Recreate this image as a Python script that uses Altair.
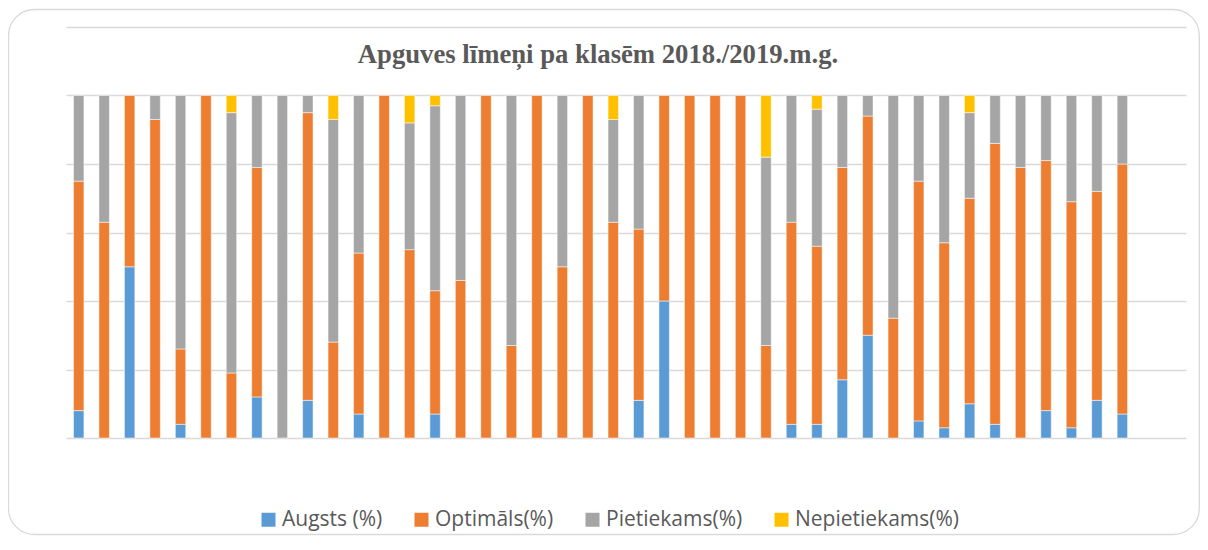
import altair as alt
import pandas as pd

# ---- data ----
classes = [str(i) for i in range(1, 45)]   # 44 category slots, last two empty
augsts = [8, 0, 50, 0, 4, 0, 0, 12, 0, 11, 0, 7, 0, 0, 7, 0, 0, 0, 0, 0, 0,
          0, 11, 40, 0, 0, 0, 0, 4, 4, 17, 30, 0, 5, 3, 10, 4, 0, 8, 3, 11, 7]
optimals = [67, 63, 50, 93, 22, 100, 19, 67, 0, 84, 28, 47, 100, 55, 36, 46, 100, 27, 100, 50, 100,
            63, 50, 60, 100, 100, 100, 27, 59, 52, 62, 64, 35, 70, 54, 60, 82, 79, 73, 66, 61, 73]
pietiekams = [25, 37, 0, 7, 74, 0, 76, 21, 100, 5, 65, 46, 0, 37, 54, 54, 0, 73, 0, 50, 0,
              30, 39, 0, 0, 0, 0, 55, 37, 40, 21, 6, 65, 25, 43, 25, 14, 21, 19, 31, 28, 20]
nepietiekams = [0, 0, 0, 0, 0, 0, 5, 0, 0, 0, 7, 0, 0, 8, 3, 0, 0, 0, 0, 0, 0,
                7, 0, 0, 0, 0, 0, 18, 0, 4, 0, 0, 0, 0, 0, 5, 0, 0, 0, 0, 0, 0]
series = ["Augsts (%)", "Optimāls(%)", "Pietiekams(%)", "Nepietiekams(%)"]
colors = ["#5B9BD5", "#ED7D31", "#A5A5A5", "#FFC000"]
title_text = "Apguves līmeņi pa klasēm 2018./2019.m.g."
grid_values = [0, 20, 40, 60, 80, 100, 120]

rows = []
for i in range(len(augsts)):
    for k, (s, vals) in enumerate(zip(series, [augsts, optimals, pietiekams, nepietiekams])):
        if vals[i] > 0:
            rows.append({"klase": classes[i], "limenis": s, "proc": vals[i], "ord": k})
df = pd.DataFrame(rows)

frame = alt.Chart(pd.DataFrame({"a": [0]})).mark_rect(
    fillOpacity=0, stroke="#d9d9d9", strokeWidth=1.3, cornerRadius=26
).encode(
    x=alt.value(-57.5), x2=alt.value(1133.3), y=alt.value(-17.5), y2=alt.value(507.5)
)

bars = alt.Chart(df).mark_bar(stroke="white", strokeWidth=0.5).encode(
    x=alt.X("klase:N",
            scale=alt.Scale(domain=classes, paddingInner=0.59, paddingOuter=0.295, round=False),
            axis=None),
    y=alt.Y("proc:Q", stack="zero",
            scale=alt.Scale(domain=[0, 120], nice=False),
            axis=alt.Axis(values=grid_values, labels=False, ticks=False, domain=False,
                          grid=True, gridColor="#d9d9d9", gridWidth=1.5, title=None)),
    color=alt.Color("limenis:N", scale=alt.Scale(domain=series, range=colors),
                    legend=alt.Legend(orient="none", legendX=192, legendY=482,
                                      direction="horizontal", title=None,
                                      symbolType="square", symbolSize=196,
                                      symbolStrokeWidth=0, labelFont="Open Sans",
                                      labelFontSize=21, labelColor="#595959",
                                      labelOffset=3, columnPadding=28, padding=0,
                                      labelLimit=0)),
    order=alt.Order("ord:Q", sort="ascending"),
)

title = alt.Chart(pd.DataFrame({"t": [title_text]})).mark_text(
    font="Liberation Serif", fontWeight="bold", fontSize=26.7, color="#595959",
    align="center", baseline="alphabetic"
).encode(
    x=alt.value(532), y=alt.value(36), text="t:N"
)

chart = alt.layer(frame, bars, title).properties(
    width=1120, height=411,
    autosize=alt.AutoSizeParams(type="none"),
    padding={"left": 58, "top": 19, "right": 14, "bottom": 98},
    background="white",
).configure_view(stroke=None)

chart.save("out.html", embed_options={"renderer": "svg", "actions": False})
